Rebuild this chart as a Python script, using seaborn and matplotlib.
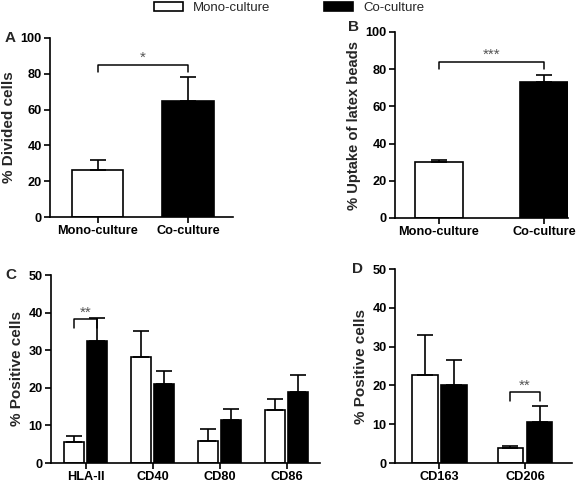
import matplotlib
matplotlib.use("Agg")
import matplotlib.pyplot as plt
import seaborn as sns
import pandas as pd
from matplotlib.patches import Patch

sns.set_theme(style="ticks")
plt.rcParams['font.family'] = ['Liberation Sans', 'DejaVu Sans']

groups = ["Mono-culture", "Co-culture"]
colors = ["white", "black"]

# Panel A
a_cats = ["Mono-culture", "Co-culture"]
a_vals = [26, 65]
a_errs = [6, 13]
# Panel B
b_cats = ["Mono-culture", "Co-culture"]
b_vals = [30, 73]
b_errs = [1.2, 4]
# Panel C
c_cats = ["HLA-II", "CD40", "CD80", "CD86"]
c_mono = [5.7, 28.2, 5.8, 14.0]
c_mono_err = [1.6, 7.0, 3.2, 3.0]
c_co = [32.5, 21.0, 11.5, 18.8]
c_co_err = [6.1, 3.4, 2.8, 4.6]
# Panel D
d_cats = ["CD163", "CD206"]
d_mono = [22.6, 3.8]
d_mono_err = [10.4, 0.6]
d_co = [20.0, 10.6]
d_co_err = [6.6, 4.0]

fig = plt.figure(figsize=(5.78, 4.87), dpi=100)
W, H = 578, 487

def add_ax(l, r, b, t):
    return fig.add_axes([l / W, 1 - b / H, (r - l) / W, (b - t) / H])

axA = add_ax(50, 233, 217, 38)
axB = add_ax(395, 568, 218, 32)
axC = add_ax(51, 320, 463, 275)
axD = add_ax(395, 572, 463, 269)

tick_fs = 9.2
lab_fs = 11
LW = 1.2

def style(ax, ymax, step, ylabel, yfs=lab_fs):
    ax.set_ylim(0, ymax)
    ax.set_yticks(range(0, ymax + 1, step))
    ax.set_ylabel(ylabel, fontsize=yfs, fontweight='bold', labelpad=3)
    ax.set_xlabel("")
    for s in ['top', 'right']:
        ax.spines[s].set_visible(False)
    for s in ['left', 'bottom']:
        ax.spines[s].set_linewidth(LW)
        ax.spines[s].set_color('black')
    ax.tick_params(axis='both', width=LW, length=4, colors='black', labelsize=tick_fs, pad=2)
    for lbl in ax.get_xticklabels() + ax.get_yticklabels():
        lbl.set_fontweight('bold')
    if ax.get_legend() is not None:
        ax.get_legend().remove()

def draw_err(ax, xs, ys, es):
    for x, y, e in zip(xs, ys, es):
        ax.errorbar([x], [y], yerr=[[0], [e]], fmt='none', ecolor='black',
                    elinewidth=LW, capsize=6, capthick=LW, zorder=5)

def bracket(ax, x1, x2, y, drop, text):
    ax.plot([x1, x1, x2, x2], [y - drop, y, y, y - drop], color='black', lw=LW * 0.9)
    ax.text((x1 + x2) / 2, y, text, ha='center', va='bottom', color='#555555', fontsize=11)

# Panel A
dfA = pd.DataFrame({"cat": a_cats, "val": a_vals})
sns.barplot(data=dfA, x="cat", y="val", hue="cat", palette=colors, width=0.57,
            edgecolor='black', linewidth=LW, errorbar=None, ax=axA, legend=False)
axA.set_xlim(-0.53, 1.5)
draw_err(axA, [0, 1], a_vals, a_errs)
bracket(axA, 0, 1, 85, 4, "*")
style(axA, 100, 20, "% Divided cells")

# Panel B
dfB = pd.DataFrame({"cat": b_cats, "val": b_vals})
sns.barplot(data=dfB, x="cat", y="val", hue="cat", palette=colors, width=0.46,
            edgecolor='black', linewidth=LW, errorbar=None, ax=axB, legend=False)
axB.set_xlim(-0.42, 1.23)
draw_err(axB, [0, 1], b_vals, b_errs)
bracket(axB, 0, 1, 84, 4, "***")
style(axB, 100, 20, "% Uptake of latex beads", yfs=10.6)

# Panel C
dfC = pd.DataFrame({"cat": c_cats * 2,
                    "grp": [groups[0]] * len(c_cats) + [groups[1]] * len(c_cats),
                    "val": c_mono + c_co})
sns.barplot(data=dfC, x="cat", y="val", hue="grp", palette=colors, width=0.68, gap=0.12,
            edgecolor='black', linewidth=LW, errorbar=None, ax=axC)
axC.set_xlim(-0.52, 3.5)
offC = 0.17
draw_err(axC, [i - offC for i in range(4)], c_mono, c_mono_err)
draw_err(axC, [i + offC for i in range(4)], c_co, c_co_err)
bracket(axC, -offC, offC, 38.2, 2.3, "**")
style(axC, 50, 10, "% Positive cells")

# Panel D
dfD = pd.DataFrame({"cat": d_cats * 2,
                    "grp": [groups[0]] * len(d_cats) + [groups[1]] * len(d_cats),
                    "val": d_mono + d_co})
sns.barplot(data=dfD, x="cat", y="val", hue="grp", palette=colors, width=0.68, gap=0.12,
            edgecolor='black', linewidth=LW, errorbar=None, ax=axD)
axD.set_xlim(-0.52, 1.55)
offD = 0.17
draw_err(axD, [i - offD for i in range(2)], d_mono, d_mono_err)
draw_err(axD, [i + offD for i in range(2)], d_co, d_co_err)
bracket(axD, 1 - offD, 1 + offD, 18.2, 2.3, "**")
style(axD, 50, 10, "% Positive cells")

# Panel letters
for lab, x, y in [("A", 5, 38), ("B", 348, 27), ("C", 5, 275), ("D", 352, 269)]:
    fig.text(x / W, 1 - y / H, lab, fontsize=11, fontweight='bold', ha='left', va='center')

# Legend
handles = [Patch(facecolor='white', edgecolor='black', linewidth=LW, label=groups[0]),
           Patch(facecolor='black', edgecolor='black', linewidth=LW, label=groups[1])]
fig.legend(handles=handles, loc='center', bbox_to_anchor=(0.5, 1 - 8 / H), ncol=2,
           frameon=False, fontsize=9.5, handlelength=2.2, handleheight=0.7,
           columnspacing=4.0, handletextpad=0.8)

fig.savefig("out.png", dpi=100)
